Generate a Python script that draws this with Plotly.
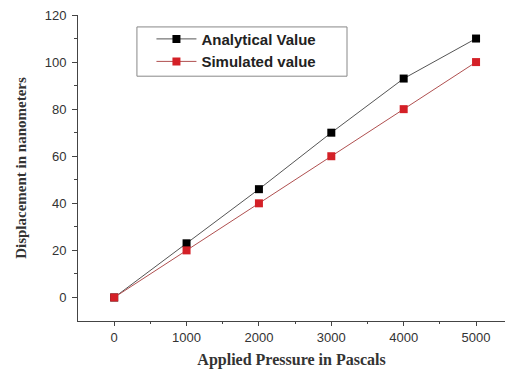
import plotly.graph_objects as go

pressure = [0, 1000, 2000, 3000, 4000, 5000]
analytical = [0, 23, 46, 70, 93, 110]
simulated = [0, 20, 40, 60, 80, 100]

fig = go.Figure()
fig.add_trace(go.Scatter(x=pressure, y=analytical, mode="lines+markers", name="Analytical Value",
                         line=dict(color="#555555", width=1),
                         marker=dict(symbol="square", size=8, color="#000000")))
fig.add_trace(go.Scatter(x=pressure, y=simulated, mode="lines+markers", name="Simulated value",
                         line=dict(color="#b05050", width=1),
                         marker=dict(symbol="square", size=8, color="#d42027")))

tickfont = dict(family="Liberation Sans, Arial", size=13, color="#333333")
fig.update_layout(
    width=507, height=374,
    margin=dict(l=78, r=2, t=15, b=53),
    paper_bgcolor="white", plot_bgcolor="white",
    showlegend=True,
    legend=dict(x=0.172, y=0.975, xanchor="left", yanchor="top",
                borderwidth=0, bgcolor="rgba(0,0,0,0)",
                font=dict(family="Liberation Sans, Arial", size=15, color="#222222"),
                itemwidth=40, tracegroupgap=0),
    shapes=[dict(type="rect", xref="paper", yref="paper", x0=0.138, x1=0.630, y0=0.80, y1=0.961,
                 line=dict(color="#888888", width=1), fillcolor="rgba(0,0,0,0)", layer="above")],
    xaxis=dict(range=[-500, 5400], tickvals=[0, 1000, 2000, 3000, 4000, 5000], automargin=False,
               ticks="outside", ticklen=4, tickcolor="#444", showline=True, linecolor="#444",
               linewidth=1, showgrid=False, zeroline=False, tickfont=tickfont,
               minor=dict(tickvals=[500, 1500, 2500, 3500, 4500], ticks="outside", ticklen=2, tickcolor="#444"),
               title=dict(text="<b>Applied Pressure in Pascals</b>",
                          font=dict(family="Liberation Serif, Times New Roman", size=16, color="#333333"),
                          standoff=10)),
    yaxis=dict(range=[-10, 120], tickvals=[0, 20, 40, 60, 80, 100, 120], automargin=False,
               ticks="outside", ticklen=5, tickcolor="#444", showline=True, linecolor="#444",
               linewidth=1, showgrid=False, zeroline=False, tickfont=tickfont,
               minor=dict(tickvals=[10, 30, 50, 70, 90, 110], ticks="outside", ticklen=3, tickcolor="#444"),
               title=dict(text="<b>Displacement in nanometers</b>",
                          font=dict(family="Liberation Serif, Times New Roman", size=15, color="#333333"),
                          standoff=14)),
)
fig.update_xaxes(tickprefix="<b>", ticksuffix="</b>")
fig.update_yaxes(tickprefix="<b>", ticksuffix="</b>", ticklabelstandoff=3)
fig.for_each_trace(lambda t: t.update(name="<b>" + t.name + "</b>"))
fig.write_html("out.html", config={"displayModeBar": False},
               post_script="document.body.style.margin='0';document.body.style.overflow='hidden';")
